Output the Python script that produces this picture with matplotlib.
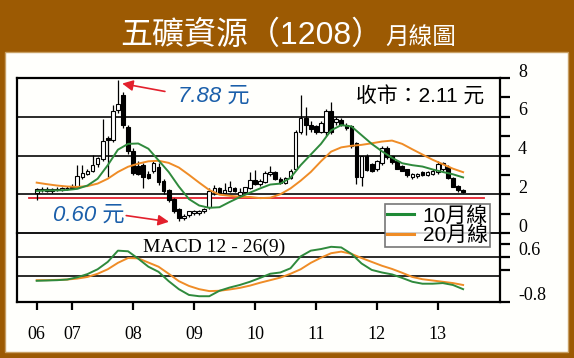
import matplotlib
matplotlib.use("Agg")
import matplotlib.pyplot as plt
from matplotlib.patches import Rectangle
from matplotlib.lines import Line2D
import matplotlib.transforms as mtransforms

W, H = 574, 358

# monthly candles, Jun 2006 .. Jun 2013
opens = [2.05, 2.20, 2.25, 2.15, 2.25, 2.20, 2.30, 2.30, 2.40, 2.90,
         3.05, 3.20, 3.55, 3.80, 4.90, 4.80, 6.35, 7.10, 5.45, 4.25,
         3.45, 3.50, 3.05, 3.20, 3.40, 2.70, 2.20, 1.78, 1.25, 0.78,
         0.92, 1.02, 1.05, 1.12, 1.35, 2.10, 2.30, 2.05, 2.15, 2.30,
         1.95, 2.10, 2.30, 2.72, 2.55, 2.65, 3.05, 3.15, 2.80, 2.60,
         2.85, 3.30, 5.20, 5.95, 5.55, 5.50, 5.20, 5.20, 6.30, 5.75,
         5.85, 5.60, 5.50, 4.65, 2.90, 3.95, 3.55, 3.30, 3.60, 4.40,
         3.95, 3.72, 3.45, 3.30, 2.90, 2.95, 3.15, 3.00, 3.05, 3.15,
         3.30, 3.40, 2.85, 2.45, 2.20]
highs = [2.30, 2.35, 2.35, 2.30, 2.40, 2.40, 2.45, 2.55, 3.50, 3.50,
         3.30, 4.05, 3.90, 5.90, 5.00, 6.60, 7.88, 7.30, 5.60, 4.40,
         3.70, 3.60, 3.20, 3.70, 3.60, 2.80, 2.25, 1.80, 1.30, 1.00,
         1.15, 1.20, 1.20, 1.30, 2.30, 2.50, 2.40, 2.60, 2.70, 2.40,
         2.30, 2.40, 3.15, 3.25, 2.80, 3.20, 3.45, 3.20, 2.90, 2.90,
         3.30, 5.30, 7.10, 6.50, 5.80, 5.60, 5.80, 6.40, 6.75, 6.00,
         5.95, 5.70, 5.60, 4.70, 4.00, 4.10, 3.60, 3.75, 4.50, 4.50,
         4.00, 3.75, 3.50, 3.32, 3.10, 3.10, 3.20, 3.20, 3.30, 3.70,
         3.65, 3.50, 2.90, 2.50, 2.25]
lows = [1.70, 2.10, 2.10, 2.05, 2.15, 2.15, 2.20, 2.25, 2.35, 2.80,
        3.00, 3.15, 3.40, 3.70, 2.90, 4.70, 6.20, 5.40, 4.10, 3.00,
        3.00, 2.30, 2.80, 3.10, 2.50, 2.00, 1.60, 1.05, 0.60, 0.65,
        0.85, 0.95, 0.95, 1.05, 1.25, 1.95, 2.00, 2.00, 2.10, 2.10,
        1.90, 2.05, 2.25, 2.50, 2.45, 2.60, 2.95, 2.75, 2.55, 2.55,
        2.80, 3.25, 5.10, 5.05, 5.20, 5.10, 5.15, 5.00, 5.10, 5.60,
        5.50, 5.30, 4.40, 2.55, 2.45, 3.20, 3.15, 3.20, 3.50, 3.80,
        3.55, 3.30, 3.20, 2.90, 2.80, 2.85, 2.95, 2.95, 3.00, 3.05,
        3.20, 2.80, 2.35, 2.10, 2.05]
closes = [2.25, 2.25, 2.15, 2.25, 2.20, 2.30, 2.30, 2.40, 2.95, 3.10,
          3.20, 3.50, 3.85, 4.75, 4.80, 6.30, 6.65, 5.55, 4.25, 3.10,
          3.05, 2.90, 2.85, 3.60, 2.65, 2.15, 1.70, 1.13, 0.78, 0.90,
          1.12, 1.12, 1.15, 1.25, 2.15, 2.30, 2.05, 2.20, 2.35, 2.15,
          2.12, 2.35, 2.72, 2.55, 2.70, 3.10, 3.15, 2.80, 2.60, 2.85,
          3.20, 5.20, 5.95, 5.55, 5.35, 5.20, 5.70, 6.30, 5.20, 5.90,
          5.60, 5.40, 4.50, 2.90, 3.95, 3.25, 3.22, 3.72, 4.40, 3.90,
          3.65, 3.32, 3.22, 2.97, 3.05, 3.05, 3.00, 3.15, 3.22, 3.55,
          3.60, 2.85, 2.40, 2.20, 2.11]

# moving averages and MACD, read every second month
line_idx = list(range(0, 85, 2))
ma10 = [2.17, 2.20, 2.20, 2.22, 2.28, 2.45, 2.80, 3.50, 4.30, 4.60,
        4.62, 4.35, 3.75, 3.15, 2.40, 1.75, 1.42, 1.30, 1.33, 1.60,
        1.85, 2.08, 2.30, 2.50, 2.55, 2.85, 3.50, 4.05, 4.60, 5.30,
        5.57, 5.50, 5.05, 4.60, 4.22, 3.88, 3.60, 3.50, 3.43, 3.28,
        3.15, 3.03, 2.87]
ma20 = [2.60, 2.52, 2.45, 2.40, 2.38, 2.42, 2.55, 2.80, 3.15, 3.42,
        3.58, 3.70, 3.73, 3.62, 3.38, 3.00, 2.60, 2.22, 1.98, 1.92,
        1.87, 1.86, 1.80, 1.82, 2.00, 2.30, 2.70, 3.15, 3.70, 4.20,
        4.42, 4.50, 4.55, 4.63, 4.72, 4.77, 4.60, 4.32, 4.05, 3.78,
        3.55, 3.32, 3.14]
macd_dif = [-0.14, -0.13, -0.12, -0.10, -0.03, 0.07, 0.22, 0.45, 0.80, 0.78,
            0.55, 0.30, 0.14, -0.15, -0.40, -0.58, -0.62, -0.62, -0.45, -0.35,
            -0.27, -0.17, -0.05, 0.08, 0.12, 0.25, 0.62, 0.80, 0.85, 0.92,
            0.90, 0.70, 0.40, 0.20, 0.12, 0.06, -0.05, -0.17, -0.23, -0.23,
            -0.21, -0.27, -0.40]
macd_sig = [-0.12, -0.12, -0.11, -0.10, -0.07, -0.02, 0.08, 0.22, 0.42, 0.57,
            0.56, 0.43, 0.30, 0.08, -0.15, -0.30, -0.40, -0.46, -0.45, -0.41,
            -0.36, -0.29, -0.20, -0.12, -0.04, 0.08, 0.22, 0.42, 0.58, 0.72,
            0.77, 0.70, 0.57, 0.45, 0.33, 0.23, 0.11, -0.02, -0.09, -0.13,
            -0.17, -0.21, -0.27]

year_pos = [0, 7, 19, 31, 43, 55, 67, 79]
year_labels = ["06", "07", "08", "09", "10", "11", "12", "13"]
price_labels = [0, 2, 4, 6, 8]
macd_labels = [0.6, -0.8]

BROWN = "#9c5a03"
GREEN = "#2f8a3c"
ORANGE = "#ef8c26"
RED = "#e3202c"
BLUE = "#1b5faa"

plt.rcParams["font.family"] = ["Noto Sans CJK TC", "DejaVu Sans"]
SERIF = ["Liberation Serif", "DejaVu Serif"]
SANS = ["Liberation Sans", "Noto Sans CJK TC"]


def fx(px):
    return px / W


def fy(py):
    return 1 - py / H


fig = plt.figure(figsize=(W / 100, H / 100), dpi=100, facecolor=BROWN)
fig.patches.append(Rectangle((fx(5), fy(352)), fx(568) - fx(5), fy(52) - fy(352),
                             transform=fig.transFigure, facecolor="#fffffc",
                             edgecolor="#c8a064", lw=1, zorder=-5))

# title
fig.text(fx(120), fy(44), "五礦資源（1208）", color="white", fontsize=23, family=SANS,
         ha="left", va="baseline")
fig.text(fx(385), fy(44), "月線圖", color="white", fontsize=17, ha="left", va="baseline")

xl, xr = -3.88, 91.27
ax1 = fig.add_axes([fx(17), fy(233), fx(500) - fx(17), fy(78) - fy(233)])
ax2 = fig.add_axes([fx(17), fy(302), fx(500) - fx(17), fy(233) - fy(302)])
for ax in (ax1, ax2):
    ax.set_facecolor("none")
    ax.set_xlim(xl, xr)
    for s in ax.spines.values():
        s.set_linewidth(1.6)
        s.set_color("black")
ax1.set_ylim(0, 8)
ax2.set_ylim(-0.8, 1.35)

# --- price panel ---
for y in [2, 4, 6]:
    ax1.axhline(y, color="#1a1a1a", lw=1.3, zorder=1)
ax1.spines["bottom"].set_linewidth(1.3)
ax1.plot([-1.6, 88.2], [1.82, 1.82], color=RED, lw=1.3, zorder=2)

for i in range(len(opens)):
    o, h, l, c = opens[i], highs[i], lows[i], closes[i]
    ax1.vlines(i, l, h, color="black", lw=0.9, zorder=3)
    up = c >= o
    body = max(abs(c - o), 0.04)
    ax1.bar(i, body, width=0.72, bottom=min(o, c), facecolor="white" if up else "black",
            edgecolor="black", lw=0.8, zorder=4)

ax1.plot(line_idx, ma20, color=ORANGE, lw=1.4, zorder=5)
ax1.plot(line_idx, ma10, color=GREEN, lw=1.4, zorder=6)

ax1.annotate("", xy=(16.3, 7.74), xytext=(25.8, 7.28),
             arrowprops=dict(arrowstyle="-|>", color=RED, lw=1.2, mutation_scale=16), zorder=7)
ax1.annotate("", xy=(26.6, 0.56), xytext=(17.1, 0.92),
             arrowprops=dict(arrowstyle="-|>", color=RED, lw=1.2, mutation_scale=16), zorder=7)
ax1.text(27.9, 7.05, "7.88 元", color=BLUE, fontsize=16, style="italic", va="center", ha="left",
         family=["Liberation Sans Narrow", "Liberation Sans", "Noto Sans CJK TC"])
ax1.text(3.3, 0.92, "0.60 元", color=BLUE, fontsize=16, style="italic", va="center", ha="left",
         family=["Liberation Sans Narrow", "Liberation Sans", "Noto Sans CJK TC"])
fig.text(fx(356), fy(97), "收市：2.11 元", fontsize=15, family=SANS, ha="left", va="center",
         color="black")

ax1.set_xticks([])
ax1.yaxis.tick_right()
ax1.set_yticks([0, 1, 2, 3, 4, 5, 6, 7, 8])
ax1.set_yticklabels([])
ax1.tick_params(axis="y", direction="out", length=7, width=1.6)

lab_tr = mtransforms.blended_transform_factory(ax1.transAxes, ax1.transData)
for v in price_labels:
    ax1.text(1 + 18 / 483, v + 0.07, str(v), transform=lab_tr, fontsize=13,
             family=SERIF, ha="left", va="baseline")

# --- MACD panel ---
ax2.spines["top"].set_visible(False)
ax2.axhline(0.6, color="#1a1a1a", lw=1.3, zorder=1)
ax2.axhline(0.0, color="#1a1a1a", lw=1.3, zorder=1)
ax2.plot(line_idx, macd_sig, color=ORANGE, lw=1.4, zorder=3)
ax2.plot(line_idx, macd_dif, color=GREEN, lw=1.4, zorder=4)
fig.text(fx(143), fy(247), "MACD 12 - 26(9)", fontsize=14, family=SERIF, ha="left", va="center")

ax2.yaxis.tick_right()
ax2.set_yticks([1.0, 0.6, 0.2, -0.8])
ax2.set_yticklabels([])
ax2.tick_params(axis="y", direction="out", length=7, width=1.6)
lab_tr2 = mtransforms.blended_transform_factory(ax2.transAxes, ax2.transData)
for v in macd_labels:
    ax2.text(1 + 18 / 483, v + 0.05, f"{v:.1f}", transform=lab_tr2, fontsize=13,
             family=SERIF, ha="left", va="baseline")

ax2.set_xticks(year_pos)
ax2.set_xticklabels(year_labels, family=SERIF, fontsize=13)
ax2.tick_params(axis="x", direction="out", length=6, width=1.6, pad=11)

handles = [Line2D([], [], color="#1f8a36", lw=2.2), Line2D([], [], color=ORANGE, lw=2.2)]
leg = fig.legend(handles, ["10月線", "20月線"], loc="upper left",
                 bbox_to_anchor=(fx(385), fy(204)), fontsize=15, frameon=True, fancybox=False,
                 borderaxespad=0, borderpad=0.1, labelspacing=0.0, handlelength=1.3,
                 handletextpad=0.4, prop={"family": SANS, "size": 15})
leg.get_frame().set_edgecolor("#555555")
leg.get_frame().set_linewidth(1.2)
leg.get_frame().set_facecolor("white")

fig.savefig("out.png", dpi=100, facecolor=BROWN)
